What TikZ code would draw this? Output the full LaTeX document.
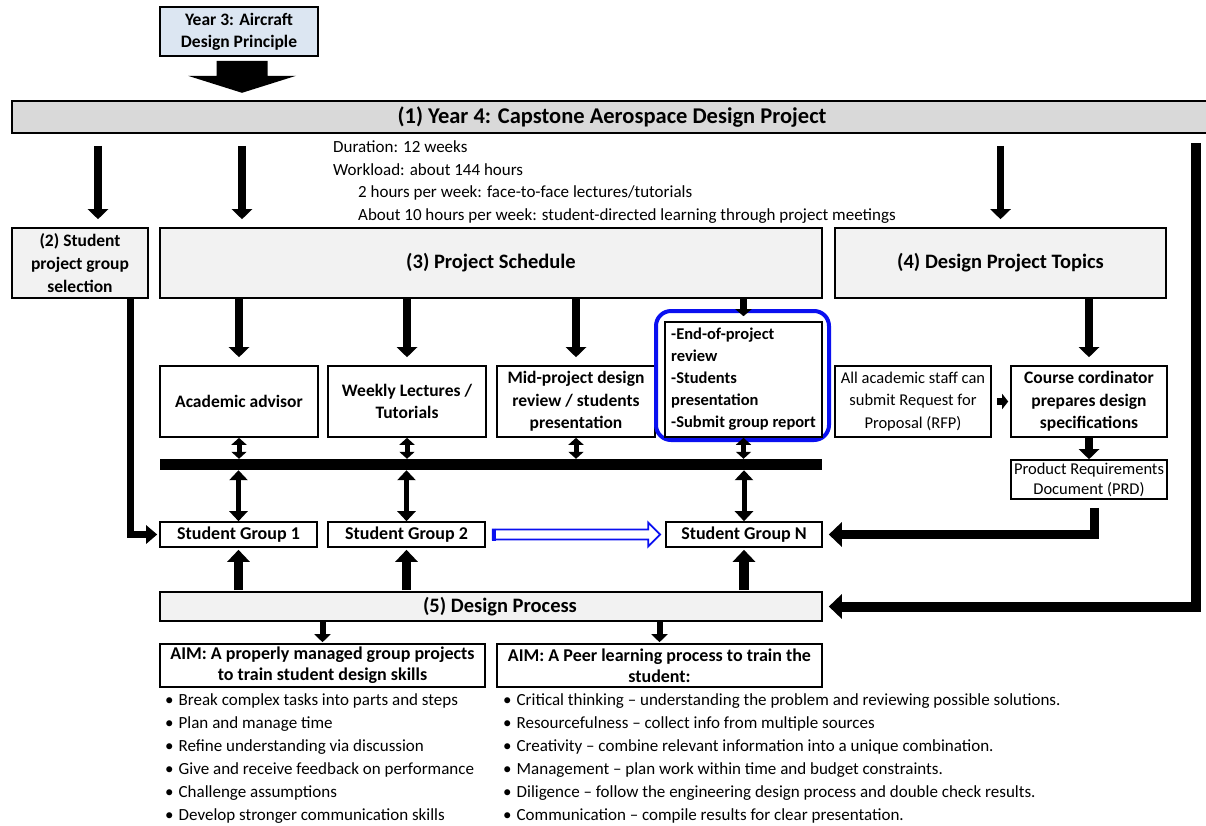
\documentclass[tikz,border=0pt]{standalone}
\usepackage{fontspec}
\setmainfont{Carlito}
\usetikzlibrary{arrows.meta,calc}
\definecolor{barfill}{HTML}{D9D9D9}
\definecolor{boxfill}{HTML}{F2F2F2}
\definecolor{yrfill}{HTML}{DCE6F2}
\definecolor{hiblue}{HTML}{0A10F0}
\tikzset{
  box/.style={draw, line width=1.6pt, fill=white, align=center, inner sep=0pt,
    font=\fontsize{17.5}{22.5}\selectfont\bfseries},
  gbox/.style={box, fill=boxfill, font=\fontsize{20.5}{24}\selectfont\bfseries},
  plain/.style={anchor=west, inner sep=0pt, font=\fontsize{17}{20}\selectfont},
  arr/.style={line width=7.5pt, -{Triangle[width=20pt,length=10pt]}},
  arrsmall/.style={line width=7pt, -{Triangle[width=16pt,length=7pt]}},
  arrup/.style={line width=9.5pt, -{Triangle[width=22pt,length=12pt]}},
  arrdown/.style={line width=6pt, -{Triangle[width=16pt,length=8pt]}},
  arrfeed/.style={line width=9pt, -{Triangle[width=24pt,length=13pt]}},
  darrs/.style={line width=5pt, {Triangle[width=15pt,length=7pt]}-{Triangle[width=15pt,length=7pt]}},
  darrb/.style={line width=5pt, {Triangle[width=18pt,length=10pt]}-{Triangle[width=18pt,length=10pt]}},
}
\begin{document}
\begin{tikzpicture}[x=1pt,y=-1pt]
\useasboundingbox (0,0) rectangle (1206,825);

% top of the flow
\node[box, fill=yrfill, minimum width=158pt, minimum height=49pt, font=\fontsize{17.5}{22}\selectfont\bfseries] (yr3) at (239,31.5)
  {Year 3: Aircraft\\Design Principle};
\node[box, fill=barfill, minimum width=1200pt, minimum height=32pt,
  font=\fontsize{22.5}{26}\selectfont\bfseries] (title) at (612,117)
  {(1) Year 4: Capstone Aerospace Design Project};
\fill ($(yr3.south)+(-22.5,4)$) -- ($(yr3.south)+(28.5,4)$) -- ($(yr3.south)+(28.5,19)$)
  -- ($(yr3.south)+(57,19)$) -- ($(yr3.south)+(3,36)$) -- ($(yr3.south)+(-51,19)$)
  -- ($(yr3.south)+(-22.5,19)$) -- cycle;

% duration and workload
\node[plain] (d1) at (333,147) {Duration: 12 weeks};
\node[plain] (d2) at (333,170) {Workload: about 144 hours};
\node[plain] (d3) at (358,193) {2 hours per week: face-to-face lectures/tutorials};
\node[plain] (d4) at (358,216) {About 10 hours per week: student-directed learning through project meetings};

% second level
\node[box, fill=boxfill, minimum width=136pt, minimum height=70pt, font=\fontsize{17.5}{23}\selectfont\bfseries] (n2) at (80,263)
  {(2) Student\\project group\\selection};
\node[gbox, minimum width=662pt, minimum height=70pt] (n3) at (491,263) {(3) Project Schedule};
\node[gbox, minimum width=331pt, minimum height=70pt] (n4) at (1000.5,263) {(4) Design Project Topics};

% schedule items
\node[box, minimum width=158pt, minimum height=71pt] (adv) at (239,401.5) {Academic advisor};
\node[box, minimum width=158pt, minimum height=71pt] (lec) at (407,401.5) {Weekly Lectures /\\Tutorials};
\node[box, minimum width=158pt, minimum height=71pt] (mid) at (576,401.5) {Mid-project design\\review / students\\presentation};
\node[draw=hiblue, line width=4pt, rounded corners=15pt, minimum width=173pt, minimum height=129pt, inner sep=0pt] (hl) at (742.5,375.5) {};
\node[box, align=left, minimum width=157pt, minimum height=115pt, font=\fontsize{16.5}{22}\selectfont\bfseries] (endp) at (743.5,379.5)
  {-End-of-project\hspace{35pt}\null\\review\\-Students\\presentation\\-Submit group report};

% design topics chain
\node[box, font=\fontsize{16.5}{22.5}\selectfont, minimum width=156pt, minimum height=71pt] (rfp) at (913,401.5)
  {All academic staff can\\submit Request for\\Proposal (RFP)};
\node[box, minimum width=156pt, minimum height=71pt] (cc) at (1089,401.5)
  {Course cordinator\\prepares design\\specifications};
\node[box, font=\fontsize{16.5}{20}\selectfont, minimum width=156pt, minimum height=39pt] (prd) at (1089,479.5)
  {Product Requirements\\Document (PRD)};

% shared bar and student groups
\node[fill=black, inner sep=0pt, minimum width=662pt, minimum height=11pt] (bar) at (491,464.5) {};
\node[box, minimum width=157pt, minimum height=25pt, font=\fontsize{18}{20}\selectfont\bfseries] (sg1) at (238.5,534.5) {Student Group 1};
\node[box, minimum width=157pt, minimum height=25pt, font=\fontsize{18}{20}\selectfont\bfseries] (sg2) at (406.5,534.5) {Student Group 2};
\node[box, minimum width=156pt, minimum height=25pt, font=\fontsize{18}{20}\selectfont\bfseries] (sgn) at (744,534.5) {Student Group N};

% design process and aims
\node[gbox, minimum width=662pt, minimum height=29pt] (dp) at (491,606.5) {\hspace{18pt}(5) Design Process};
\node[box, minimum width=325pt, minimum height=43pt, font=\fontsize{18}{21}\selectfont\bfseries] (aim1) at (322.5,665.5)
  {AIM: A properly managed group projects\\to train student design skills};
\node[box, minimum width=325pt, minimum height=43pt, font=\fontsize{18}{21}\selectfont\bfseries] (aim2) at (659.5,665.5)
  {AIM: A Peer learning process to train the\\student:};

% bullet lists
\node[plain] (a1) at (165,701) {•\hspace{5pt}Break complex tasks into parts and steps};
\node[plain] (a2) at (165,724) {•\hspace{5pt}Plan and manage time};
\node[plain] (a3) at (165,747) {•\hspace{5pt}Refine understanding via discussion};
\node[plain] (a4) at (165,770) {•\hspace{5pt}Give and receive feedback on performance};
\node[plain] (a5) at (165,793) {•\hspace{5pt}Challenge assumptions};
\node[plain] (a6) at (165,816) {•\hspace{5pt}Develop stronger communication skills};
\node[plain] (b1) at (503,701) {•\hspace{5pt}Critical thinking – understanding the problem and reviewing possible solutions.};
\node[plain] (b2) at (503,724) {•\hspace{5pt}Resourcefulness – collect info from multiple sources};
\node[plain] (b3) at (503,747) {•\hspace{5pt}Creativity – combine relevant information into a unique combination.};
\node[plain] (b4) at (503,770) {•\hspace{5pt}Management – plan work within time and budget constraints.};
\node[plain] (b5) at (503,793) {•\hspace{5pt}Diligence – follow the engineering design process and double check results.};
\node[plain] (b6) at (503,816) {•\hspace{5pt}Communication – compile results for clear presentation.};

% arrows out of the capstone bar
\coordinate (t2) at ($(n2.north)+(18,0)$);
\coordinate (t3) at ($(n3.north -| adv.north)+(3,0)$);
\draw[arr, shorten <=12pt, shorten >=8pt] (title.south -| t2) -- (t2);
\draw[arr, shorten <=12pt, shorten >=8pt] (title.south -| t3) -- (t3);
\draw[arr, shorten <=12pt, shorten >=8pt] (title.south -| n4.north) -- (n4.north);
\coordinate (rtop) at (1196,143);
\draw[line width=10pt, -{Triangle[width=24pt,length=13pt]}, shorten >=6pt] (rtop) |- (dp.east);

% schedule to items
\draw[arr, shorten >=8pt] (n3.south -| adv.north) -- (adv.north);
\draw[arr, shorten >=8pt] (n3.south -| lec.north) -- (lec.north);
\draw[arr, shorten >=8pt] (n3.south -| mid.north) -- (mid.north);
\draw[arrsmall, shorten >=5pt] (n3.south -| endp.north) -- (endp.north);
\draw[arr, shorten >=8pt] (n4.south -| cc.north) -- (cc.north);
\draw[line width=7pt, -{Triangle[width=15pt,length=6pt]}, shorten <=5pt, shorten >=2pt] (rfp.east) -- (cc.west);
\draw[arr] (cc.south) -- (prd.north);

% items to shared bar, bar to groups
\draw[darrs] (adv.south) -- (bar.north -| adv.south);
\draw[darrs] (lec.south) -- (bar.north -| lec.south);
\draw[darrs] (mid.south) -- (bar.north -| mid.south);
\draw[darrs] (endp.south) -- (bar.north -| endp.south);
\draw[darrb] (bar.south -| sg1.north) -- (sg1.north);
\draw[darrb] (bar.south -| sg2.north) -- (sg2.north);
\draw[darrb] (bar.south -| sgn.north) -- (sgn.north);

% group selection and PRD feeds
\draw[line width=7pt, -{Triangle[width=18pt,length=11pt]}, shorten >=2pt] ([xshift=50pt]n2.south) |- (sg1.west);
\draw[arrfeed, shorten <=8pt, shorten >=6pt] ([xshift=5pt]prd.south) |- (sgn.east);

% group 2 to group N
\draw[hiblue, line width=1.8pt, fill=white] ($(sg2.east)+(7,-5)$) -- ($(sgn.west)+(-17,-5)$)
  -- ($(sgn.west)+(-17,-12)$) -- ($(sgn.west)+(-5,0)$) -- ($(sgn.west)+(-17,12)$)
  -- ($(sgn.west)+(-17,5)$) -- ($(sg2.east)+(7,5)$) -- cycle;
\draw[hiblue, line width=4pt] ($(sg2.east)+(8,-6)$) -- ($(sg2.east)+(8,6)$);

% design process to groups and aims
\draw[arrup, shorten <=1pt, shorten >=2pt] (dp.north -| sg1.south) -- (sg1.south);
\draw[arrup, shorten <=1pt, shorten >=2pt] (dp.north -| sg2.south) -- (sg2.south);
\draw[arrup, shorten <=1pt, shorten >=2pt] (dp.north -| sgn.south) -- (sgn.south);
\draw[arrdown, shorten >=1pt] (dp.south -| aim1.north) -- (aim1.north);
\draw[arrdown, shorten >=1pt] (dp.south -| aim2.north) -- (aim2.north);
\end{tikzpicture}
\end{document}
